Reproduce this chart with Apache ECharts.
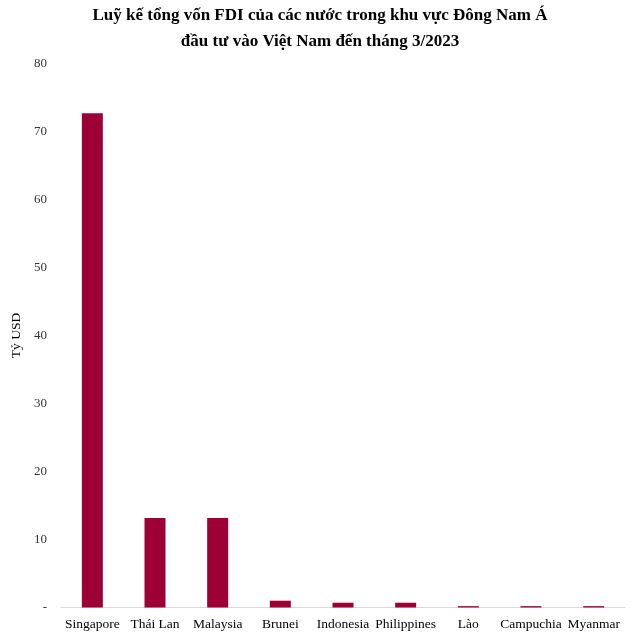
<!DOCTYPE html>
<html>
<head>
<meta charset="utf-8">
<script src="https://cdn.jsdelivr.net/npm/echarts@6/dist/echarts.min.js"></script>
<style>html,body{margin:0;padding:0;background:#fff}#c{width:640px;height:636px}</style>
</head>
<body>
<div id="c"></div>
<script>
const categories = ["Singapore", "Thái Lan", "Malaysia", "Brunei", "Indonesia", "Philippines", "Lào", "Campuchia", "Myanmar"];
const values = [72.7, 13.15, 13.15, 1.0, 0.7, 0.7, 0.2, 0.2, 0.2];
const titleLines = ["Luỹ kế tổng vốn FDI của các nước trong khu vực Đông Nam Á", "đầu tư vào Việt Nam đến tháng 3/2023"];
const yAxisName = "Tỷ USD";

const serif = '"Liberation Serif", "Times New Roman", serif';
const chart = echarts.init(document.getElementById('c'));
chart.setOption({
  animation: false,
  title: {
    text: titleLines.join('\n'),
    left: 'center',
    top: -2,
    textStyle: { fontFamily: serif, fontSize: 17, fontWeight: 'bold', color: '#000', lineHeight: 26 }
  },
  grid: { left: 61, right: 15, top: 63.5, bottom: 28.5, containLabel: false },
  xAxis: {
    type: 'category',
    data: categories,
    axisLine: { lineStyle: { color: '#d9d9d9', width: 1 } },
    axisTick: { show: false },
    axisLabel: { fontFamily: serif, fontSize: 13.5, color: '#000', margin: 10, interval: 0 }
  },
  yAxis: {
    type: 'value',
    min: 0, max: 80, interval: 10,
    name: yAxisName,
    nameLocation: 'middle',
    nameGap: 31,
    nameRotate: 90,
    nameTextStyle: { fontFamily: serif, fontSize: 13.5, color: '#000' },
    axisLine: { show: false },
    axisTick: { show: false },
    splitLine: { show: false },
    axisLabel: {
      fontFamily: serif, fontSize: 13, color: '#333', margin: 14,
      formatter: v => v === 0 ? '-' : String(v)
    }
  },
  series: [{
    type: 'bar',
    data: values,
    barWidth: 21,
    itemStyle: { color: '#9c0034' }
  }]
});
</script>
</body>
</html>
